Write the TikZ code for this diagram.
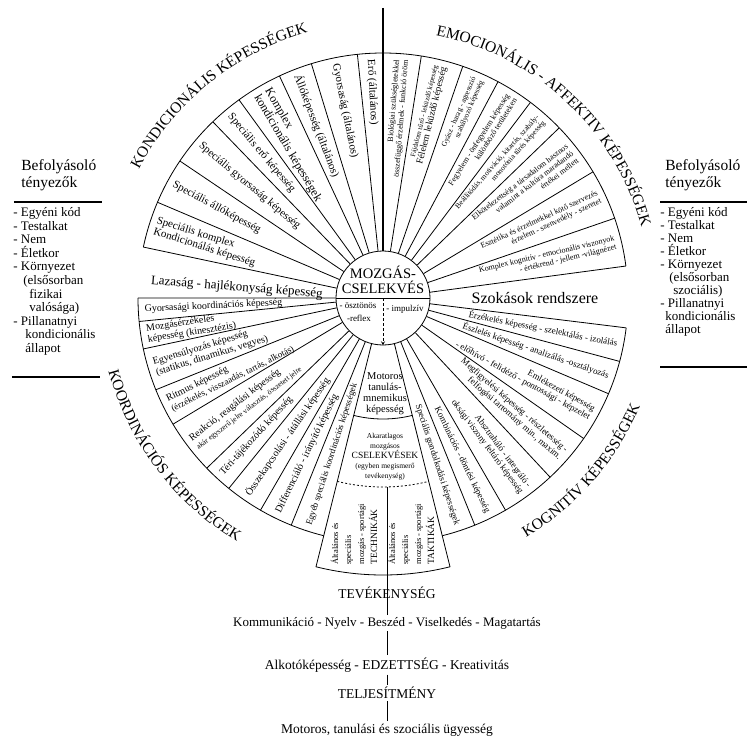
\documentclass[tikz,border=0pt]{standalone}
\usepackage{fontspec}
\setmainfont{Liberation Serif}
\usepackage{tikz}
\usetikzlibrary{decorations.text}

\newcommand{\titlefont}{\fontsize{15.5}{16}\selectfont}

\begin{document}
\begin{tikzpicture}[
            x = 1pt, % one unit is one pixel of the scan
            y = 1pt,
            > = stealth, % arrow head style
            line width = 0.8pt,
            lsec/.style = {anchor = west, align = left, inner sep = 1pt}, % text of the left half
            rsec/.style = {anchor = east, align = right, inner sep = 1pt}, % text of the right half
            kond/.style = {lsec, font = \fontsize{11}{11.6}\selectfont},
            koord/.style = {lsec, font = \fontsize{10}{10.8}\selectfont},
            emo/.style = {rsec, font = \fontsize{8}{8.8}\selectfont},
            kogn/.style = {rsec, font = \fontsize{9}{9.8}\selectfont},
            col/.style = {rotate = 90, anchor = west, align = left, inner sep = 1pt,
                          font = \fontsize{8.5}{13}\selectfont},
        ]

        \tikzstyle{chain}=[
            font = \fontsize{13.5}{15}\selectfont,
            inner sep = 2pt
        ]
        \tikzstyle{side}=[
            anchor = north west,
            align = left,
            inner sep = 0pt,
            font = \fontsize{13}{13.6}\selectfont
        ]

  \path[fill = white, use as bounding box] (-383,-444) rectangle (364,298);

  % influencing factors, left and right
  \node[side, font = \fontsize{15.5}{17}\selectfont] (bal) at (-362,139) {Befolyásoló\\tényezők};
  \draw[line width = 1.4pt] (-369,96) -- (-281,96);
  \node[side] (ballista) at (-370,91) {- Egyéni kód\\- Testalkat\\- Nem\\- Életkor\\- Környezet\\
    \hspace*{10pt}(elsősorban\\\hspace*{16pt}fizikai\\\hspace*{16pt}valósága)\\- Pillanatnyi\\
    \hspace*{12pt}kondicionális\\\hspace*{12pt}állapot};
  \draw[line width = 1.4pt] (-371,-79) -- (-283,-79);

  \node[side, font = \fontsize{15.5}{17}\selectfont] (jobb) at (282,139) {Befolyásoló\\tényezők};
  \draw[line width = 1.4pt] (277,96) -- (364,96);
  \node[side, font = \fontsize{13}{13}\selectfont] (jobblista) at (277,91) {- Egyéni kód\\- Testalkat\\- Nem\\- Életkor\\- Környezet\\
    \hspace*{9pt}(elsősorban\\\hspace*{13pt}szociális)\\- Pillanatnyi\\
    \hspace*{5pt}kondicionális\\\hspace*{5pt}állapot};
  \draw[line width = 1.4pt] (277,-69) -- (364,-69);

  % centre
  \node[draw, circle, minimum size = 94pt, inner sep = 0pt] (mozgas) at (0,0) {};
  \node[font = \fontsize{14.5}{15}\selectfont, inner sep = 0pt] (mozg) at (0,26) {MOZGÁS-};
  \node[font = \fontsize{14.5}{15}\selectfont, inner sep = 0pt] (csel) at (0,11) {CSELEKVÉS};
  \draw (mozgas.west) -- (mozgas.east);
  \node[font = \fontsize{9}{10}\selectfont, inner sep = 0pt] (osztonos) at (-25,-8) {- ösztönös};
  \node[font = \fontsize{9}{10}\selectfont, inner sep = 0pt] (reflex) at (-24,-20) {-reflex};
  \node[font = \fontsize{9}{10}\selectfont, inner sep = 0pt] (impulziv) at (22,-11) {- impulzív};
  \draw[->, dash pattern = on 3pt off 2pt] (mozgas.center) -- (mozgas.south);

  \coordinate (fent) at (0,290);
  \draw[line width = 1.8pt] (fent) -- (mozgas.north);

  % sector borders
  \draw (90:245) arc[start angle = 90, end angle = 168, radius = 245];
  \draw (180:245) arc[start angle = 180, end angle = 256, radius = 245];
  \draw (7.5:245) arc[start angle = 7.5, end angle = 90, radius = 245];
  \draw (-76:245) arc[start angle = -76, end angle = -7, radius = 245];

  \draw (mozgas.96) -- (96:245) (mozgas.107) -- (107:245) (mozgas.115) -- (115:245)
        (mozgas.126) -- (126:245) (mozgas.134) -- (134:245) (mozgas.146) -- (146:245)
        (mozgas.157) -- (157:245) (mozgas.168) -- (168:245);
  \draw (mozgas.81) -- (81:245) (mozgas.71) -- (71:245) (mozgas.62) -- (62:245)
        (mozgas.53) -- (53:245) (mozgas.44) -- (44:245) (mozgas.31) -- (31:245)
        (mozgas.19) -- (19:245) (mozgas.7.5) -- (7.5:245);
  \draw (mozgas.180) -- (180:245) (mozgas.185.5) -- (185.5:245) (mozgas.192) -- (192:245)
        (mozgas.202) -- (202:245) (mozgas.211) -- (211:245) (mozgas.224) -- (224:245)
        (mozgas.231) -- (231:245) (mozgas.240) -- (240:245) (mozgas.248) -- (248:245);
  \draw (mozgas.-7) -- (-7:245) (mozgas.-15) -- (-15:245) (mozgas.-23) -- (-23:245)
        (mozgas.-35) -- (-35:245) (mozgas.-47) -- (-47:245) (mozgas.-60) -- (-60:245)
        (mozgas.-68) -- (-68:245);

  % bottom sector
  \draw (mozgas.256) -- (256:277) arc[start angle = 256, end angle = 284, radius = 277] -- (mozgas.284);
  \draw (256:121) arc[start angle = 256, end angle = 284, radius = 121];
  \draw[dash pattern = on 2pt off 2pt] (256:189) arc[start angle = 256, end angle = 284, radius = 189];
  \node[font = \fontsize{10.5}{11}\selectfont, align = center, inner sep = 0pt] (motoros) at (2,-96)
    {Motoros\\tanulás-\\mnemikus\\képesség};
  \node[font = \fontsize{7.5}{10}\selectfont, align = center, inner sep = 0pt] (akarat) at (2,-159)
    {Akaratlagos\\mozgásos\\\fontsize{9.5}{10}\selectfont CSELEKVÉSEK\\
     \fontsize{7.5}{10}\selectfont(egyben megismerő\\tevékenység)};
  \node[col] (techn) at (-29,-268) {Általános és\\speciális\\mozgás - sportági\\\fontsize{9.5}{13}\selectfont TECHNIKÁK};
  \node[col] (takt) at (28,-268) {Általános és\\speciális\\mozgás - sportági\\\fontsize{9.5}{13}\selectfont TAKTIKÁK};

  % kondicionális
  \node[kond, rotate = -87] (ero) at (93:240) {Erő (általános)};
  \node[kond, rotate = -78.5] (gyors) at (101.5:240) {Gyorsaság (általános)};
  \node[kond, rotate = -69] (allo) at (111:240) {Állóképesség (általános)};
  \node[kond, rotate = -59.5, font = \fontsize{12}{12.5}\selectfont] (komplex) at (120.5:240) {Komplex\\kondicionális képességek};
  \node[kond, rotate = -50] (specero) at (130:240) {Speciális erő képesség};
  \node[kond, rotate = -40] (specgyors) at (140:240) {Speciális gyorsaság képesség};
  \node[kond, rotate = -28.5] (specallo) at (151.5:240) {Speciális állóképesség};
  \node[kond, rotate = -17.5] (speckompl) at (162.5:240) {Speciális komplex\\Kondicionálás képesség};
  \node[kond, rotate = -4.5, font = \fontsize{13}{14}\selectfont] (lazasag) at (175.8:234) {Lazaság - hajlékonyság képesség};

  % emocionális
  \node[emo, rotate = 85.5] (bio) at (85.5:240) {Biológiai szükségletekkel\\összefüggő érzelmek - funkció öröm};
  \node[emo, rotate = 76] (felelem) at (76:240) {\fontsize{7}{8}\selectfont Fájdalom tűrő - leküzdő képesség\\
    \fontsize{9.5}{10.5}\selectfont Félelem leküzdő képesség};
  \node[emo, rotate = 66.5, font = \fontsize{7.5}{8.5}\selectfont] (gyasz) at (66.5:240) {Gyász - harag - agresszió\\szabályozó képesség};
  \node[emo, rotate = 57.5] (fegyelem) at (57.5:240) {Fegyelem - önfegyelem képesség\\különböző területeken};
  \node[emo, rotate = 48.5, font = \fontsize{7.5}{8.5}\selectfont] (beall) at (48.5:240) {Beállítódás, motiváció, kitartás, szabály-\\monotónia tűrés képesség};
  \node[emo, rotate = 37.5] (elkot) at (37.5:240) {Elkötelezettség a társadalom hasznos\\valamint a kultúra maradandó\\értékei mellett};
  \node[emo, rotate = 25] (esztet) at (25:240) {Esztétika és érzelmekkel kötő szervezés\\érzelem - szenvedély - szeretet};
  \node[emo, rotate = 13.25] (kogemo) at (13.25:240) {Komplex kognitív - emocionális viszonyok\\- értékrend - jellem -világnézet};

  \node[font = \fontsize{16}{16}\selectfont, inner sep = 1pt] (szokas) at (152,0) {Szokások rendszere};

  % kognitív
  \node[kogn, rotate = -11] (erzek) at (-11:240) {Érzékelés képesség - szelektálás - izolálás};
  \node[kogn, rotate = -19] (eszlel) at (-19:240) {Észlelés képesség - analizálás -osztályozás};
  \node[kogn, rotate = -29] (emlek) at (-29:240) {Emlékezeti képesség\\- előhívó - felidéző - pontossági - képzelet};
  \node[kogn, rotate = -41] (megfig) at (-41:240) {Megfigyelési képesség - részletesség -\\felfogási tartomány min., maxim.};
  \node[kogn, rotate = -53.5] (absztr) at (-53.5:240) {Absztraháló - integráló -\\oksági viszony feltáró képesség};
  \node[kogn, rotate = -64] (kombin) at (-64:240) {Kombinációs - döntési képesség};
  \node[kogn, rotate = -72] (gondolk) at (-72:240) {Speciális gondolkodási képességek};

  % koordinációs
  \node[koord, rotate = 2.75] (gyorskoord) at (182.75:240) {Gyorsasági koordinációs képesség};
  \node[koord, rotate = 8.75] (mozgaserz) at (188.75:240) {Mozgásérzékelés\\képesség (kinesztézis)};
  \node[koord, rotate = 17] (egyens) at (197:240) {Egyensúlyozás képesség\\(statikus, dinamikus, vegyes)};
  \node[koord, rotate = 26.5] (ritmus) at (206.5:240) {Ritmus képesség\\\fontsize{9}{10}\selectfont(érzékelés, visszaadás, tartás, alkotás)};
  \node[koord, rotate = 37.5] (reakcio) at (217.5:240) {Reakció, reagálási képesség\\
    \fontsize{7.5}{8.5}\selectfont akár egyszerű jelre választás, összetett jelre};
  \node[koord, rotate = 47.5] (teri) at (227.5:240) {Téri-tájékozódó képesség};
  \node[koord, rotate = 55.5] (osszek) at (235.5:240) {Összekapcsolási - átállási képesség};
  \node[koord, rotate = 64] (differ) at (244:240) {Differenciáló - irányító képesség};
  \node[koord, rotate = 72, font = \fontsize{9}{10}\selectfont] (egyeb) at (252:240) {Egyéb speciális koordinációs képességek};

  % titles round the circle
  \path[decorate, decoration = {text along path, text align = center,
        text = {|\titlefont|KONDICIONÁLIS KÉPESSÉGEK}}]
        (156:276) arc[start angle = 156, end angle = 102, radius = 276];
  \path[decorate, decoration = {text along path, text align = center,
        text = {|\titlefont|EMOCIONÁLIS - AFFEKTIV KÉPESSÉGEK}}]
        (84:268) arc[start angle = 84, end angle = 10, radius = 268];
  \path[decorate, decoration = {text along path, text align = center,
        text = {|\titlefont|KOORDINÁCIÓS KÉPESSÉGEK}}]
        (191:284) arc[start angle = 191, end angle = 243, radius = 284];
  \path[decorate, decoration = {text along path, text align = center,
        text = {|\titlefont|KOGNITÍV KÉPESSÉGEK}}]
        (-63:279) arc[start angle = -63, end angle = -19, radius = 279];

  % below the circle
  \coordinate (divtop) at (4,-189);
  \node[chain] (tev) at (4,-295) {TEVÉKENYSÉG};
  \node[chain, font = \fontsize{13}{15}\selectfont] (komm) at (4,-325) {Kommunikáció - Nyelv - Beszéd - Viselkedés - Magatartás};
  \node[chain] (alko) at (4,-367) {Alkotóképesség - EDZETTSÉG - Kreativitás};
  \node[chain] (telj) at (4,-395) {TELJESÍTMÉNY};
  \node[chain] (mot) at (4,-432) {Motoros, tanulási és szociális ügyesség};

  \draw (divtop) -- (komm);
  \draw (komm) -- (alko);
  \draw (alko) -- (telj);
  \draw (telj) -- (mot);

\end{tikzpicture}
\end{document}
